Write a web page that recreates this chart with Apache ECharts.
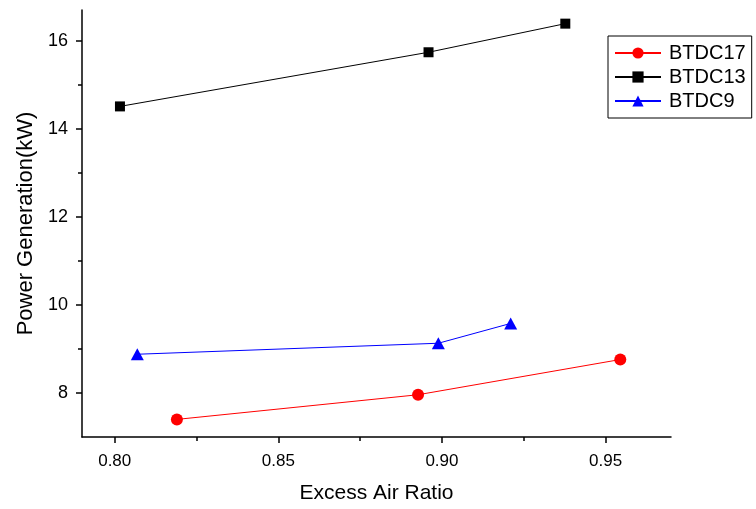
<!DOCTYPE html>
<html>
<head>
<meta charset="utf-8">
<script src="https://cdn.jsdelivr.net/npm/echarts@6/dist/echarts.min.js"></script>
<style>
  html, body { margin: 0; padding: 0; background: #fff; }
  #chart { width: 756px; height: 509px; }
</style>
</head>
<body>
<div id="chart"></div>
<script>
// Excess air ratio (x) and power generation in kW (y) per ignition timing
const btdc17X = [0.819, 0.8927, 0.9545];
const btdc17Y = [7.40, 7.96, 8.76];
const btdc13X = [0.8016, 0.8959, 0.9377];
const btdc13Y = [14.51, 15.74, 16.39];
const btdc9X = [0.8069, 0.8989, 0.921];
const btdc9Y = [8.88, 9.13, 9.58];

// Axis tick positions
const xMajorTicks = [0.80, 0.85, 0.90, 0.95];
const xMinorTicks = [0.825, 0.875, 0.925];
const yMajorTicks = [8, 10, 12, 14, 16];
const yMinorTicks = [9, 11, 13, 15];

const pairs = (xs, ys) => xs.map((x, i) => [x, ys[i]]);

const FONT = 'Liberation Sans, Arial, sans-serif';
const X_MIN = 0.79, X_MAX = 0.97, Y_MIN = 7, Y_MAX = 16.7;

const chart = echarts.init(document.getElementById('chart'), null, { renderer: 'canvas' });

const axisLine = { show: true, lineStyle: { color: '#000', width: 1.5 } };

chart.setOption({
  animation: false,
  backgroundColor: '#fff',
  grid: { left: 82, right: 85, top: 10, bottom: 71, containLabel: false },
  xAxis: [
    {
      type: 'value', min: X_MIN, max: X_MAX, position: 'bottom',
      name: 'Excess Air Ratio', nameLocation: 'middle', nameGap: 46,
      nameTextStyle: { fontFamily: FONT, fontSize: 21, color: '#000' },
      axisLine: axisLine,
      axisTick: { show: true, length: 6, inside: false, customValues: xMajorTicks,
                  lineStyle: { color: '#000', width: 1.5 } },
      axisLabel: { show: true, customValues: xMajorTicks, margin: 16,
                   fontFamily: FONT, fontSize: 17, color: '#000',
                   formatter: v => v.toFixed(2) },
      splitLine: { show: false }
    },
    {
      type: 'value', min: X_MIN, max: X_MAX, position: 'bottom',
      axisLine: { show: false },
      axisTick: { show: true, length: 4, inside: false, customValues: xMinorTicks,
                  lineStyle: { color: '#000', width: 1.5 } },
      axisLabel: { show: false },
      splitLine: { show: false }
    }
  ],
  yAxis: [
    {
      type: 'value', min: Y_MIN, max: Y_MAX, position: 'left',
      name: 'Power Generation(kW)', nameLocation: 'middle', nameGap: 45,
      nameTextStyle: { fontFamily: FONT, fontSize: 22, color: '#000' },
      axisLine: axisLine,
      axisTick: { show: true, length: 6, inside: false, customValues: yMajorTicks,
                  lineStyle: { color: '#000', width: 1.5 } },
      axisLabel: { show: true, customValues: yMajorTicks, margin: 14,
                   fontFamily: FONT, fontSize: 18, color: '#000' },
      splitLine: { show: false }
    },
    {
      type: 'value', min: Y_MIN, max: Y_MAX, position: 'left',
      axisLine: { show: false },
      axisTick: { show: true, length: 4, inside: false, customValues: yMinorTicks,
                  lineStyle: { color: '#000', width: 1.5 } },
      axisLabel: { show: false },
      splitLine: { show: false }
    }
  ],
  legend: {
    left: 608, top: 36,
    orient: 'vertical',
    padding: [7, 6, 7, 6],
    itemGap: 4,
    itemWidth: 46, itemHeight: 14,
    borderColor: '#000', borderWidth: 1,
    textStyle: { fontFamily: FONT, fontSize: 20, lineHeight: 20, color: '#000',
                 padding: [0, 0, 0, 3] },
    data: ['BTDC17', 'BTDC13', 'BTDC9']
  },
  series: [
    {
      name: 'BTDC17', type: 'line', data: pairs(btdc17X, btdc17Y),
      symbol: 'circle', symbolSize: 12,
      lineStyle: { color: '#ff0000', width: 1 },
      itemStyle: { color: '#ff0000' }
    },
    {
      name: 'BTDC13', type: 'line', data: pairs(btdc13X, btdc13Y),
      symbol: 'rect', symbolSize: 10,
      lineStyle: { color: '#000000', width: 1 },
      itemStyle: { color: '#000000' }
    },
    {
      name: 'BTDC9', type: 'line', data: pairs(btdc9X, btdc9Y),
      symbol: 'triangle', symbolSize: [13, 12],
      lineStyle: { color: '#0000ff', width: 1 },
      itemStyle: { color: '#0000ff' }
    }
  ]
});
</script>
</body>
</html>
